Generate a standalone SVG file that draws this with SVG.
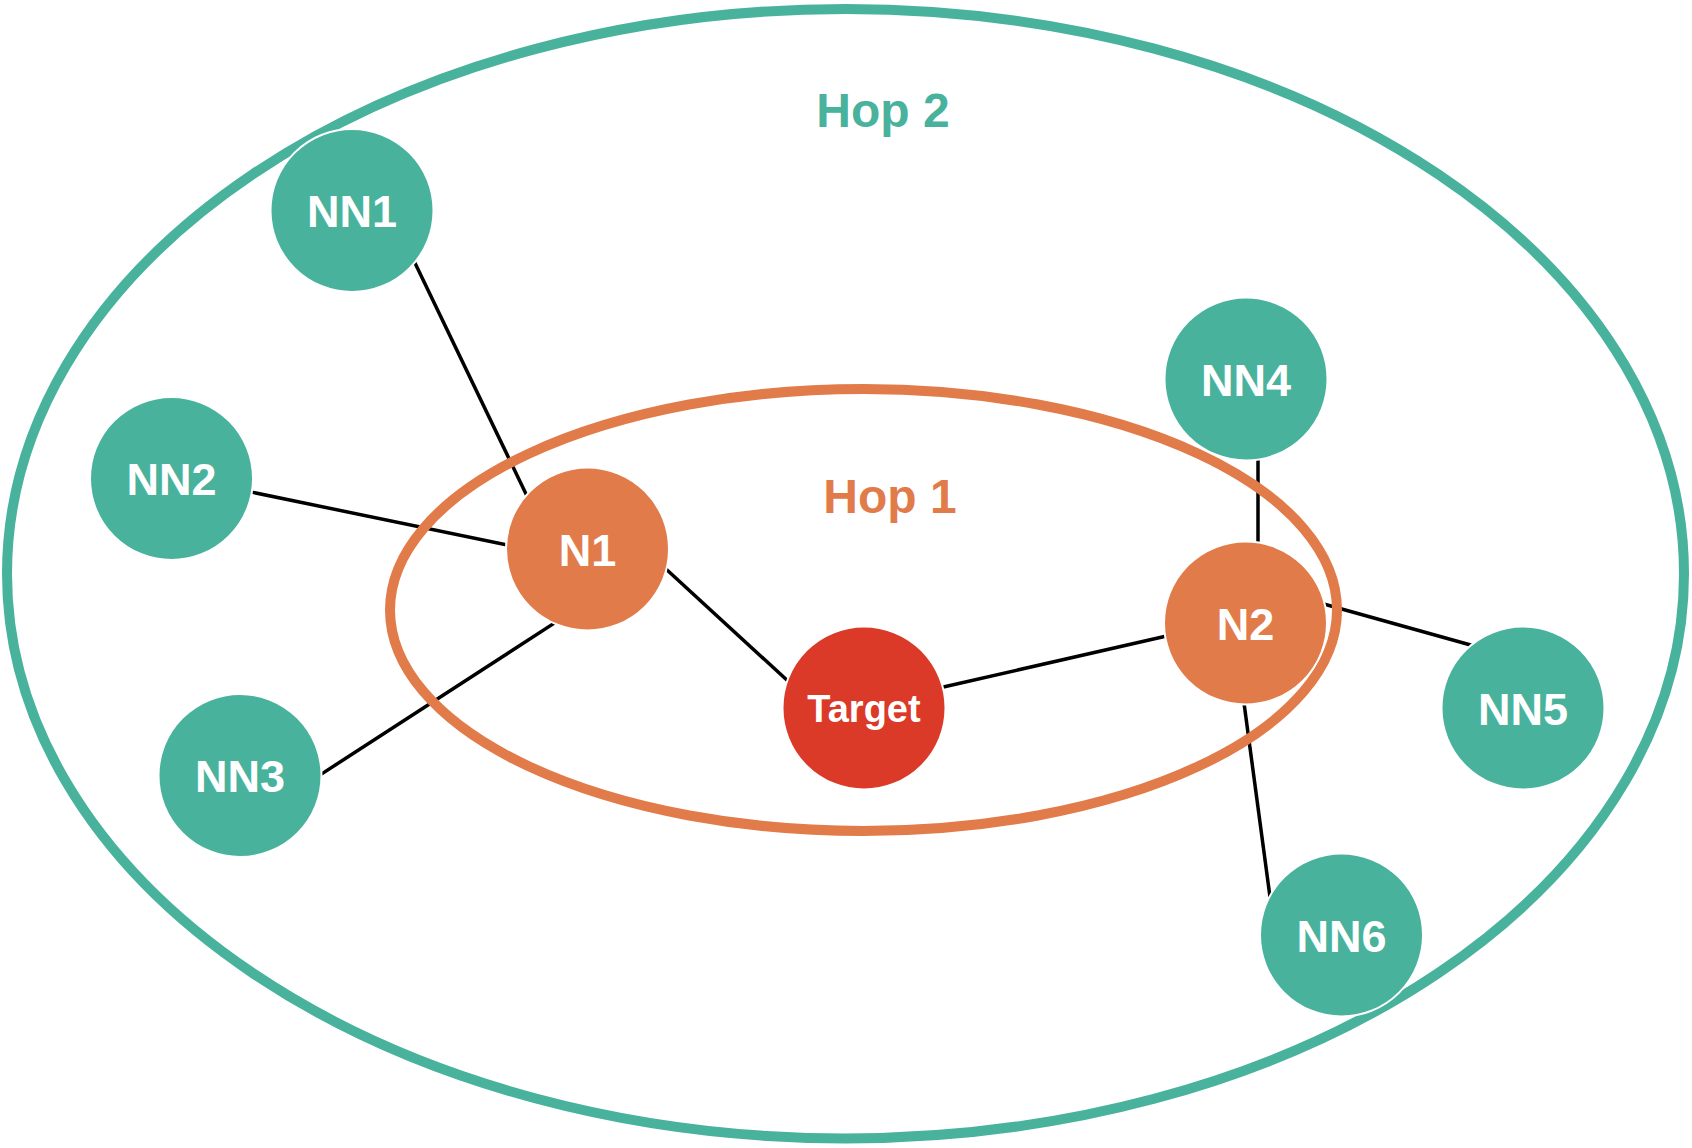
<svg xmlns="http://www.w3.org/2000/svg" width="1692" height="1148" viewBox="0 0 1692 1148">
<style>
.bg{fill:#ffffff}
.hop2{fill:none;stroke:#48B29D;stroke-width:10}
.hop1{fill:none;stroke:#E27B4A;stroke-width:10}
.edge{stroke:#000000;stroke-width:3.5;fill:none}
.teal{fill:#48B29D;stroke:#ffffff;stroke-width:2}
.orange{fill:#E27B4A;stroke:#ffffff;stroke-width:2}
.red{fill:#DA3A27;stroke:#ffffff;stroke-width:2}
.lbl{font-family:"Liberation Sans",Arial,Helvetica,sans-serif;font-weight:bold;fill:#ffffff;text-anchor:middle;font-size:45px}
.tlbl{font-size:38px}
.hoptxt{font-family:"Liberation Sans",Arial,Helvetica,sans-serif;font-weight:bold;text-anchor:middle;font-size:48px}
</style>
<rect class="bg" x="0" y="0" width="1692" height="1148"/>
<g id="hop2-region">
<ellipse class="hop2" cx="845.5" cy="573.7" rx="838.5" ry="564.7"/>
<text class="hoptxt" x="883" y="127" fill="#48B29D">Hop 2</text>
</g>
<g id="connectors">
<line class="edge" x1="412.7" y1="258.3" x2="528.3" y2="498.7"/>
<line class="edge" x1="248.1" y1="491.4" x2="509.9" y2="545.6"/>
<line class="edge" x1="317.5" y1="776.6" x2="558.5" y2="620.4"/>
<line class="edge" x1="663.8" y1="567" x2="791.2" y2="684"/>
<line class="edge" x1="940.1" y1="687.7" x2="1169.9" y2="635.3"/>
<line class="edge" x1="1258" y1="455" x2="1258" y2="547"/>
<line class="edge" x1="1321.1" y1="603.2" x2="1476.9" y2="646.8"/>
<line class="edge" x1="1243.6" y1="700" x2="1270.4" y2="900"/>
</g>
<g id="hop1-region">
<ellipse class="hop1" cx="863.5" cy="610" rx="473.5" ry="221"/>
<text class="hoptxt" x="890" y="513" fill="#E27B4A">Hop 1</text>
</g>
<g id="NN1"><circle class="teal" cx="352" cy="210.5" r="81.5"/><text class="lbl" x="352" y="227">NN1</text></g>
<g id="NN2"><circle class="teal" cx="171.5" cy="478.5" r="81.5"/><text class="lbl" x="171.5" y="495">NN2</text></g>
<g id="NN3"><circle class="teal" cx="240" cy="775.5" r="81.5"/><text class="lbl" x="240" y="792">NN3</text></g>
<g id="N1"><circle class="orange" cx="587.5" cy="549" r="81.5"/><text class="lbl" x="587.5" y="565.5">N1</text></g>
<g id="Target"><circle class="red" cx="864" cy="708" r="81.5"/><text class="lbl tlbl" x="864" y="722">Target</text></g>
<g id="N2"><circle class="orange" cx="1245.5" cy="623" r="81.5"/><text class="lbl" x="1245.5" y="639.5">N2</text></g>
<g id="NN4"><circle class="teal" cx="1246" cy="379" r="81.5"/><text class="lbl" x="1246" y="395.5">NN4</text></g>
<g id="NN5"><circle class="teal" cx="1523" cy="708" r="81.5"/><text class="lbl" x="1523" y="724.5">NN5</text></g>
<g id="NN6"><circle class="teal" cx="1341.5" cy="935" r="81.5"/><text class="lbl" x="1341.5" y="951.5">NN6</text></g>
</svg>
